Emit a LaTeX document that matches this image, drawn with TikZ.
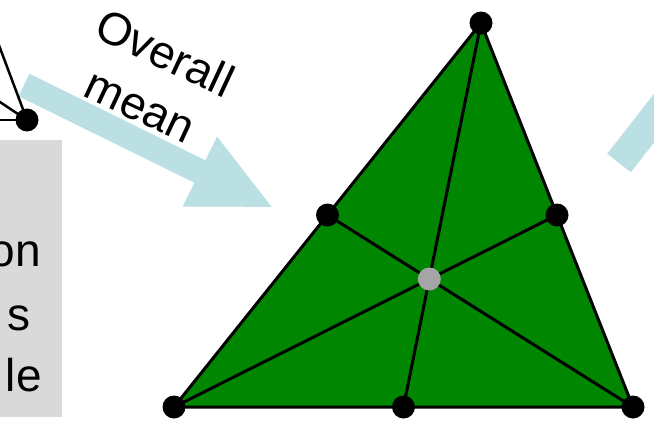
\documentclass[tikz,border=0pt]{standalone}
\usepackage{fontspec}
\setmainfont{Liberation Sans}
\usetikzlibrary{calc}
\definecolor{arrowblue}{RGB}{186,224,228}
\definecolor{trigreen}{RGB}{0,134,0}
\definecolor{boxgray}{RGB}{217,217,217}
\definecolor{centergray}{RGB}{165,165,165}
\begin{document}
\begin{tikzpicture}[x=1pt,y=-1pt,
  dot/.style={circle,fill=black,inner sep=0pt,minimum size=23pt},
  cdot/.style={circle,fill=centergray,inner sep=0pt,minimum size=23pt},
  edge/.style={line width=3pt,line join=round},
  thin line/.style={line width=2.5pt},
  bigtext/.style={font=\fontsize{46}{58}\selectfont,inner sep=0pt}]
\clip (0,0) rectangle (654,426);
\fill[white] (0,0) rectangle (654,426);
% left gray box with clipped text
\node[fill=boxgray,minimum width=62pt,minimum height=277pt,anchor=north west,inner sep=0pt] (box) at (0,140) {};
\node[bigtext,anchor=base east] (t1) at (41,266) {on};
\node[bigtext,anchor=base east] (t2) at (31,330) {s};
\node[bigtext,anchor=base east] (t3) at (42,391) {le};
% top-left dot and lines
\coordinate (l1) at (-3,40);
\coordinate (l2) at (-6,98);
\coordinate (l3) at (-6,120);
% overall mean arrow
\begin{scope}[shift={(24,85)},rotate=-26.2]
\fill[arrowblue] (0,-12.5) -- (196,-12.5) -- (196,-39) -- (276,0) -- (196,39) -- (196,12.5) -- (0,12.5) -- cycle;
\end{scope}
\node[dot] (d0) at (27,120) {};
\draw[thin line] (d0.center) -- (l1);
\draw[thin line] (d0.center) -- (l2);
\draw[thin line] (d0.center) -- (l3);
\node[bigtext,align=center,rotate=-25] (lab) at (153,79) {Overall\\mean};
% right partial arrow
\begin{scope}[shift={(619,163)},rotate=52]
\fill[arrowblue] (0,-15) -- (160,-15) -- (160,15) -- (0,15) -- cycle;
\end{scope}
% triangle
\coordinate (T) at (481,23);
\coordinate (BL) at (174,407);
\coordinate (BR) at (633,407);
\coordinate (ML) at ($(T)!0.5!(BL)$);
\coordinate (MR) at ($(T)!0.5!(BR)$);
\coordinate (MB) at ($(BL)!0.5!(BR)$);
\coordinate (C) at ($1/3*(T)+1/3*(BL)+1/3*(BR)$);
\filldraw[fill=trigreen,draw=black,edge] (T) -- (BL) -- (BR) -- cycle;
\draw[edge] (T) -- (MB);
\draw[edge] (BL) -- (MR);
\draw[edge] (BR) -- (ML);
\node[dot] (nT) at (T) {};
\node[dot] (nBL) at (BL) {};
\node[dot] (nBR) at (BR) {};
\node[dot] (nML) at (ML) {};
\node[dot] (nMR) at (MR) {};
\node[dot] (nMB) at (MB) {};
\node[cdot] (nC) at (C) {};
\end{tikzpicture}
\end{document}
